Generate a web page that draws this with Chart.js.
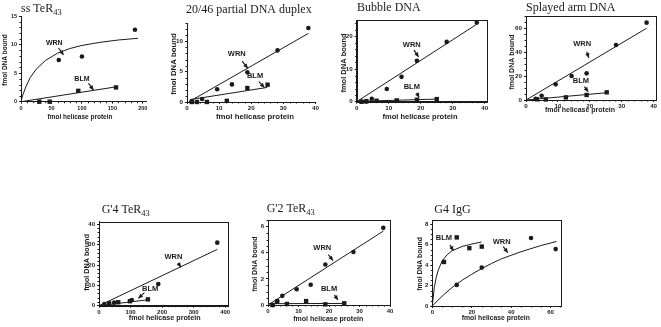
<!DOCTYPE html>
<html>
<head>
<meta charset="utf-8">
<script src="https://cdn.jsdelivr.net/npm/chart.js@4.4.1/dist/chart.umd.min.js"></script>
<style>
  html, body { margin: 0; padding: 0; background: #fff; }
  body { width: 661px; height: 327px; position: relative; overflow: hidden; }
  canvas { position: absolute; }
</style>
</head>
<body>
<script>
// ---- data: [fmol helicase protein, fmol DNA bound] ----

// ss TeR43
const ssWrn = [[62, 7.3], [100, 7.9], [187, 12.6]];
const ssBlm = [[30, 0], [47, 0], [94, 1.9], [156, 2.5]];
const ssWrnFit = [[0, 0], [3, 1.2], [8, 2.6], [15, 4.2], [25, 5.7], [40, 7.2], [60, 8.5], [80, 9.3], [100, 9.85], [130, 10.4], [160, 10.8], [192, 11.1]];
const ssBlmFit = [[0, 0], [156, 2.6]];
const ssXTicks = [0, 50, 100, 150, 200];
const ssYTicks = [0, 5, 10, 15];

// 20/46 partial DNA duplex
const pdWrn = [[1.5, 0.1], [4.7, 0.5], [9.4, 2.1], [14, 2.9], [18.8, 4.9], [28.2, 8.5], [37.8, 12.2]];
const pdBlm = [[1.5, 0], [3.1, 0], [6.2, 0], [12.4, 0.2], [18.8, 2.3], [25.1, 2.85]];
const pdWrnFit = [[0.5, 0], [37.8, 11.3]];
const pdBlmFit = [[1, 0.4], [25, 2.4]];
const pdXTicks = [0, 10, 20, 30, 40];
const pdYTicks = [0, 5, 10];

// Bubble DNA
const bbWrn = [[1.5, 0], [3, 0.1], [4.7, 0.9], [9.4, 3.9], [14, 7.6], [18.8, 12.5], [28.1, 18.3], [37.5, 24.2]];
const bbBlm = [[1.5, 0], [3, 0.1], [6.2, 0.3], [12.5, 0.4], [18.8, 0.6], [25, 0.8]];
const bbWrnFit = [[0, 0], [37.5, 23.7]];
const bbBlmFit = [[0, 0.1], [25, 0.8]];
const bbXTicks = [0, 10, 20, 30, 40];
const bbYTicks = [0, 10, 20];

// Splayed arm DNA
const saWrn = [[3, 1], [4.9, 3.6], [9.3, 13.1], [14.3, 20.1], [19, 22.3], [28.2, 46], [37.8, 64.7]];
const saBlm = [[3.4, 0.6], [6.2, 0.5], [12.5, 2.2], [19, 4.2], [25.3, 6.4]];
const saWrnFit = [[0, 0], [37.8, 60]];
const saBlmFit = [[0, 0], [25.3, 6.1]];
const saXTicks = [0, 10, 20, 30, 40];
const saYTicks = [0, 20, 40, 60];

// G'4 TeR43
const g4tWrn = [[17, 0.8], [48, 1.5], [104, 2.8], [188, 10.7], [375, 31]];
const g4tBlm = [[32, 1.2], [61, 1.7], [98, 2.2], [155, 3.1]];
const g4tWrnFit = [[0, 0], [375, 27.7]];
const g4tBlmFit = [[0, 0], [155, 2.9]];
const g4tXTicks = [0, 100, 200, 300, 400];
const g4tYTicks = [0, 10, 20, 30, 40];

// G'2 TeR43
const g2tWrn = [[1.5, 0], [3, 0.3], [4.7, 0.7], [9.4, 1.2], [14, 1.55], [18.8, 3.1], [28, 4.05], [37.8, 5.9]];
const g2tBlm = [[1.5, 0], [3, 0.25], [6.2, 0.08], [12.5, 0.3], [18.8, 0.05], [25, 0.13]];
const g2tWrnFit = [[0, 0], [37.8, 5.65]];
const g2tBlmFit = [[0, 0.1], [25, 0.12]];
const g2tXTicks = [0, 10, 20, 30, 40];
const g2tYTicks = [0, 2, 4, 6];

// G4 IgG
const igWrn = [[12.4, 2.06], [25.1, 3.75], [50.1, 6.64], [62.6, 5.56]];
const igBlm = [[5.9, 4.3], [12.4, 6.7], [18.8, 5.65], [25.1, 5.8]];
const igWrnFit = [[0, 0], [5, 0.97], [10, 1.8], [15, 2.5], [20, 3.1], [25, 3.65], [30, 4.15], [35, 4.6], [40, 4.95], [45, 5.3], [50, 5.6], [55, 5.9], [60, 6.15], [63, 6.3]];
const igBlmFit = [[0, 0], [1, 1.8], [2, 2.8], [3, 3.5], [5, 4.4], [7.5, 5.0], [10, 5.4], [15, 5.8], [20, 6.05], [25, 6.25]];
const igXTicks = [0, 20, 40, 60];
const igYTicks = [0, 2, 4, 6, 8];

// ---- layout (page pixels) ----
const ink = '#1a1a1a';
const sans = '"Liberation Sans", Arial, sans-serif';
const serif = '"Liberation Serif", "Times New Roman", serif';

const panels = [
  { title: 'ss TeR', sub: '43', wrn: ssWrn, blm: ssBlm, wrnFit: ssWrnFit, blmFit: ssBlmFit, xTicks: ssXTicks, yTicks: ssYTicks,
    xMax: 206, yMax: 15, xMinor: 10, yMinor: 1, box: false,
    plot: [21, 16, 146.5, 101.7], canvas: [0, 0, 158, 124], titleAt: [21, 11.5],
    xTitleAt: [80, 117], yTitleAt: [5.5, 60], axisFont: 6.5, tickFont: 5.5, noteFont: 7,
    notes: [['WRN', 54.6, 10.3, 61.6, 9.4, 69.8, 8.2], ['BLM', 100, 4.0, 110.8, 3.2, 119, 2.06]] },
  { title: '20/46 partial DNA duplex', wrn: pdWrn, blm: pdBlm, wrnFit: pdWrnFit, blmFit: pdBlmFit, xTicks: pdXTicks, yTicks: pdYTicks,
    xMax: 40, yMax: 13, xMinor: 2, yMinor: 1, box: false,
    plot: [187, 23.1, 315.4, 102], canvas: [163, 0, 160, 124], titleAt: [186, 12.7],
    xTitleAt: [255, 117], yTitleAt: [174, 64], axisFont: 7.8, tickFont: 6.2, noteFont: 7.5,
    notes: [['WRN', 15.5, 8.0, 17.2, 6.75, 18.9, 5.55], ['BLM', 21.2, 4.3, 22.4, 3.35, 24.1, 2.4]] },
  { title: 'Bubble DNA', wrn: bbWrn, blm: bbBlm, wrnFit: bbWrnFit, blmFit: bbBlmFit, xTicks: bbXTicks, yTicks: bbYTicks,
    xMax: 40.6, yMax: 25, xMinor: 2, yMinor: 2, box: true,
    plot: [356.7, 20, 486.7, 101.7], canvas: [333, 0, 162, 124], titleAt: [357, 11],
    xTitleAt: [420, 117], yTitleAt: [344, 63], axisFont: 7.5, tickFont: 6.2, noteFont: 7.5,
    notes: [['WRN', 17.2, 17.5, 17.9, 15.8, 19.3, 13.7], ['BLM', 17.2, 4.6, 18.75, 2.75, 19.5, 1.3]] },
  { title: 'Splayed arm DNA', wrn: saWrn, blm: saBlm, wrnFit: saWrnFit, blmFit: saBlmFit, xTicks: saXTicks, yTicks: saYTicks,
    xMax: 40.75, yMax: 70, xMinor: 2, yMinor: 5, box: true,
    plot: [526, 16.3, 656, 100], canvas: [500, 0, 161, 124], titleAt: [526, 10.5],
    xTitleAt: [580, 110.5], yTitleAt: [511.7, 62], axisFont: 7, tickFont: 6.2, noteFont: 7.5,
    notes: [['WRN', 17.6, 46.9, 19, 40.4, 19.7, 35.4], ['BLM', 17.2, 16.2, 18.3, 11.1, 19.5, 6.9]] },
  { title: "G'4 TeR", sub: '43', wrn: g4tWrn, blm: g4tBlm, wrnFit: g4tWrnFit, blmFit: g4tBlmFit, xTicks: g4tXTicks, yTicks: g4tYTicks,
    xMax: 408, yMax: 41.3, xMinor: 20, yMinor: 2, box: true,
    plot: [99, 221.7, 227.7, 305.7], canvas: [75, 195, 162, 132], titleAt: [101.7, 213],
    xTitleAt: [164.7, 318.5], yTitleAt: [86.7, 262.5], axisFont: 7.2, tickFont: 6, noteFont: 7.5,
    notes: [['WRN', 236, 23.8, 250, 21.1, 260, 18.9], ['BLM', 162, 8.2, 144, 6.4, 125, 3.6]] },
  { title: "G'2 TeR", sub: '43', wrn: g2tWrn, blm: g2tBlm, wrnFit: g2tWrnFit, blmFit: g2tBlmFit, xTicks: g2tXTicks, yTicks: g2tYTicks,
    xMax: 40, yMax: 6.5, xMinor: 2, yMinor: 0.5, box: true,
    plot: [268, 220, 390, 305], canvas: [245, 195, 155, 132], titleAt: [266.7, 211.7],
    xTitleAt: [328.3, 319.5], yTitleAt: [255, 264], axisFont: 7, tickFont: 6, noteFont: 7.5,
    notes: [['WRN', 17.8, 4.36, 19.8, 3.85, 21.3, 3.4], ['BLM', 20, 1.22, 21.8, 0.77, 22.9, 0.38]] },
  { title: 'G4 IgG', wrn: igWrn, blm: igBlm, wrnFit: igWrnFit, blmFit: igBlmFit, xTicks: igXTicks, yTicks: igYTicks,
    xMax: 65.3, yMax: 8.4, xMinor: 5, yMinor: 0.5, box: true,
    plot: [432.3, 220, 561, 306], canvas: [408, 195, 165, 132], titleAt: [434.3, 213],
    xTitleAt: [495.8, 318.5], yTitleAt: [420, 264], axisFont: 6.8, tickFont: 6, noteFont: 7.5,
    notes: [['BLM', 5.9, 6.6, 8.96, 5.98, 10.7, 5.4], ['WRN', 35.2, 6.3, 36, 5.8, 38.3, 5.2]] }
];

function drawArrow(ctx, x1, y1, x2, y2) {
  ctx.beginPath();
  ctx.moveTo(x1, y1);
  ctx.lineTo(x2, y2);
  ctx.stroke();
  const a = Math.atan2(y2 - y1, x2 - x1), len = 4.5, w = 2.2;
  const bx = x2 - len * Math.cos(a), by = y2 - len * Math.sin(a);
  ctx.beginPath();
  ctx.moveTo(x2, y2);
  ctx.lineTo(bx + w * Math.sin(a), by - w * Math.cos(a));
  ctx.lineTo(bx - w * Math.sin(a), by + w * Math.cos(a));
  ctx.closePath();
  ctx.fill();
}

function decor(p) {
  const ox = p.canvas[0], oy = p.canvas[1];
  return {
    id: 'decor',
    afterDraw(chart) {
      const ctx = chart.ctx, a = chart.chartArea, xs = chart.scales.x, ys = chart.scales.y;
      ctx.save();
      ctx.strokeStyle = ink;
      ctx.fillStyle = ink;
      ctx.lineWidth = 1;
      if (p.box) {
        const l = Math.round(a.left) + 0.5, t = Math.round(a.top) + 0.5;
        const r = Math.round(a.right) + 0.5, b = Math.round(a.bottom) + 0.5;
        ctx.strokeRect(l, t, r - l, b - t);
      }
      // minor ticks
      ctx.beginPath();
      for (let v = 0; v <= p.xMax + 1e-9; v += p.xMinor) {
        if (p.xTicks.some(t => Math.abs(t - v) < 1e-6)) continue;
        const x = Math.round(xs.getPixelForValue(v)) + 0.5;
        ctx.moveTo(x, a.bottom); ctx.lineTo(x, a.bottom + 1.5);
      }
      for (let v = 0; v <= p.yMax + 1e-9; v += p.yMinor) {
        if (p.yTicks.some(t => Math.abs(t - v) < 1e-6)) continue;
        const y = Math.round(ys.getPixelForValue(v)) + 0.5;
        ctx.moveTo(a.left - 1.5, y); ctx.lineTo(a.left, y);
      }
      ctx.stroke();
      // panel title
      ctx.textAlign = 'left';
      ctx.textBaseline = 'alphabetic';
      ctx.font = '12px ' + serif;
      const tx = p.titleAt[0] - ox, ty = p.titleAt[1] - oy;
      ctx.fillText(p.title, tx, ty);
      if (p.sub) {
        const w = ctx.measureText(p.title).width;
        ctx.font = '8.5px ' + serif;
        ctx.fillText(p.sub, tx + w, ty + 3);
      }
      // axis titles
      ctx.font = 'bold ' + p.axisFont + 'px ' + sans;
      ctx.textAlign = 'center';
      ctx.textBaseline = 'middle';
      ctx.fillText('fmol helicase protein', p.xTitleAt[0] - ox, p.xTitleAt[1] - oy);
      ctx.save();
      ctx.translate(p.yTitleAt[0] - ox, p.yTitleAt[1] - oy);
      ctx.rotate(-Math.PI / 2);
      ctx.fillText('fmol DNA bound', 0, 0);
      ctx.restore();
      // WRN / BLM call-outs
      ctx.font = 'bold ' + p.noteFont + 'px ' + sans;
      ctx.lineWidth = 1.2;
      for (const [label, lx, ly, x1, y1, x2, y2] of p.notes) {
        ctx.fillText(label, xs.getPixelForValue(lx), ys.getPixelForValue(ly));
        drawArrow(ctx, xs.getPixelForValue(x1), ys.getPixelForValue(y1), xs.getPixelForValue(x2), ys.getPixelForValue(y2));
      }
      ctx.restore();
    }
  };
}

function fitSet(data) {
  return { data, showLine: true, borderColor: ink, borderWidth: 1, pointRadius: 0, pointHoverRadius: 0, tension: 0, clip: false };
}
function markSet(data, style, r) {
  return { data, showLine: false, pointStyle: style, pointRadius: r, pointHoverRadius: r,
           backgroundColor: ink, borderColor: ink, borderWidth: 0, clip: false };
}

for (const p of panels) {
  const [cx, cy, cw, ch] = p.canvas;
  const [L, T, R, B] = p.plot;
  const cv = document.createElement('canvas');
  cv.width = cw; cv.height = ch;
  cv.style.left = cx + 'px'; cv.style.top = cy + 'px';
  document.body.appendChild(cv);

  const axis = (ticks, max, fit, isX) => ({
    type: 'linear', min: 0, max,
    afterFit: fit,
    afterBuildTicks: s => { s.ticks = ticks.map(v => ({ value: v })); },
    grid: { display: true, drawOnChartArea: false, drawTicks: true, tickLength: 2, color: ink, tickColor: ink },
    border: { display: true, color: ink, width: 1 },
    ticks: { color: ink, font: { family: sans, size: p.tickFont, weight: 'bold' }, padding: isX ? 1 : 2,
             maxRotation: 0, autoSkip: false }
  });

  new Chart(cv, {
    type: 'scatter',
    data: {
      datasets: [
        fitSet(p.wrnFit),
        fitSet(p.blmFit),
        markSet(p.wrn, 'circle', 2.3),
        markSet(p.blm, 'rect', 3.1)
      ]
    },
    options: {
      responsive: false,
      animation: false,
      devicePixelRatio: 1,
      layout: { padding: { left: 0, top: T - cy, right: cx + cw - R, bottom: 0 } },
      plugins: { legend: { display: false }, tooltip: { enabled: false } },
      scales: {
        x: axis(p.xTicks, p.xMax, s => { s.height = cy + ch - B; }, true),
        y: axis(p.yTicks, p.yMax, s => { s.width = L - cx; }, false)
      }
    },
    plugins: [decor(p)]
  });
}
</script>
</body>
</html>
